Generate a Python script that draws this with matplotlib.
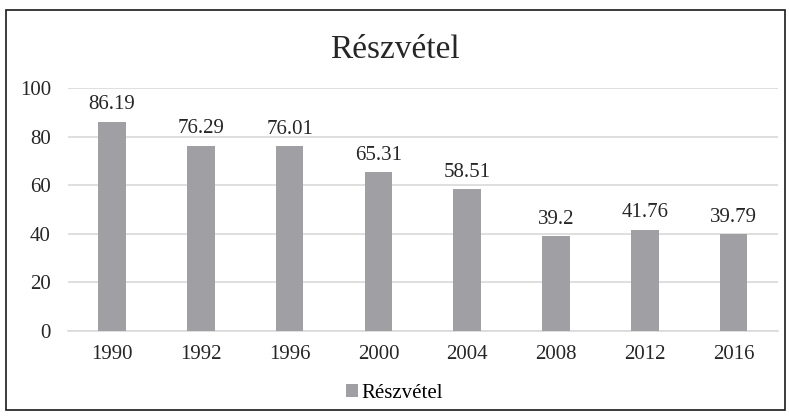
import matplotlib.pyplot as plt
from matplotlib.patches import Rectangle
import numpy as np

years = ['1990', '1992', '1996', '2000', '2004', '2008', '2012', '2016']
values = [86.19, 76.29, 76.01, 65.31, 58.51, 39.2, 41.76, 39.79]
labels = ['86.19', '76.29', '76.01', '65.31', '58.51', '39.2', '41.76', '39.79']

plt.rcParams['font.family'] = ['Liberation Serif', 'DejaVu Serif']

fig = plt.figure(figsize=(7.89, 4.17), dpi=100)
ax = fig.add_axes([0.0857, 0.206, 0.9003, 0.583])

x = np.arange(len(years))
bars = ax.bar(x, values, width=0.31, color='#a0a0a4', label='Részvétel', zorder=3)
for xi, v, t in zip(x, values, labels):
    ax.text(xi, v + 3, t, ha='center', va='bottom', fontsize=15, color='#262626')

ax.set_xlim(-0.5, len(years) - 0.5)
ax.set_ylim(0, 100)
ax.set_yticks([0, 20, 40, 60, 80, 100])
ax.set_xticks(x)
ax.set_xticklabels(years)
ax.tick_params(axis='both', length=0, labelsize=15, colors='#262626')
ax.tick_params(axis='x', pad=10)
ax.tick_params(axis='y', pad=12)
ax.yaxis.grid(True, color='#d9d9d9', linewidth=1.2, zorder=0)
for s in ['top', 'right', 'left']:
    ax.spines[s].set_visible(False)
ax.spines['bottom'].set_color('#d9d9d9')
ax.spines['bottom'].set_linewidth(1.2)

fig.text(0.5, 0.88, 'Részvétel', ha='center', va='center', fontsize=24, color='#262626')
fig.legend(loc='center', bbox_to_anchor=(0.5, 0.057), frameon=False, fontsize=15,
           handlelength=0.55, handleheight=0.55, handletextpad=0.15)

fig.patches.append(Rectangle((6 / 789, 7 / 417), 779 / 789, 400 / 417, transform=fig.transFigure,
                             fill=False, edgecolor='#1a1a1a', linewidth=1.2))

fig.savefig('out.png', dpi=100)
